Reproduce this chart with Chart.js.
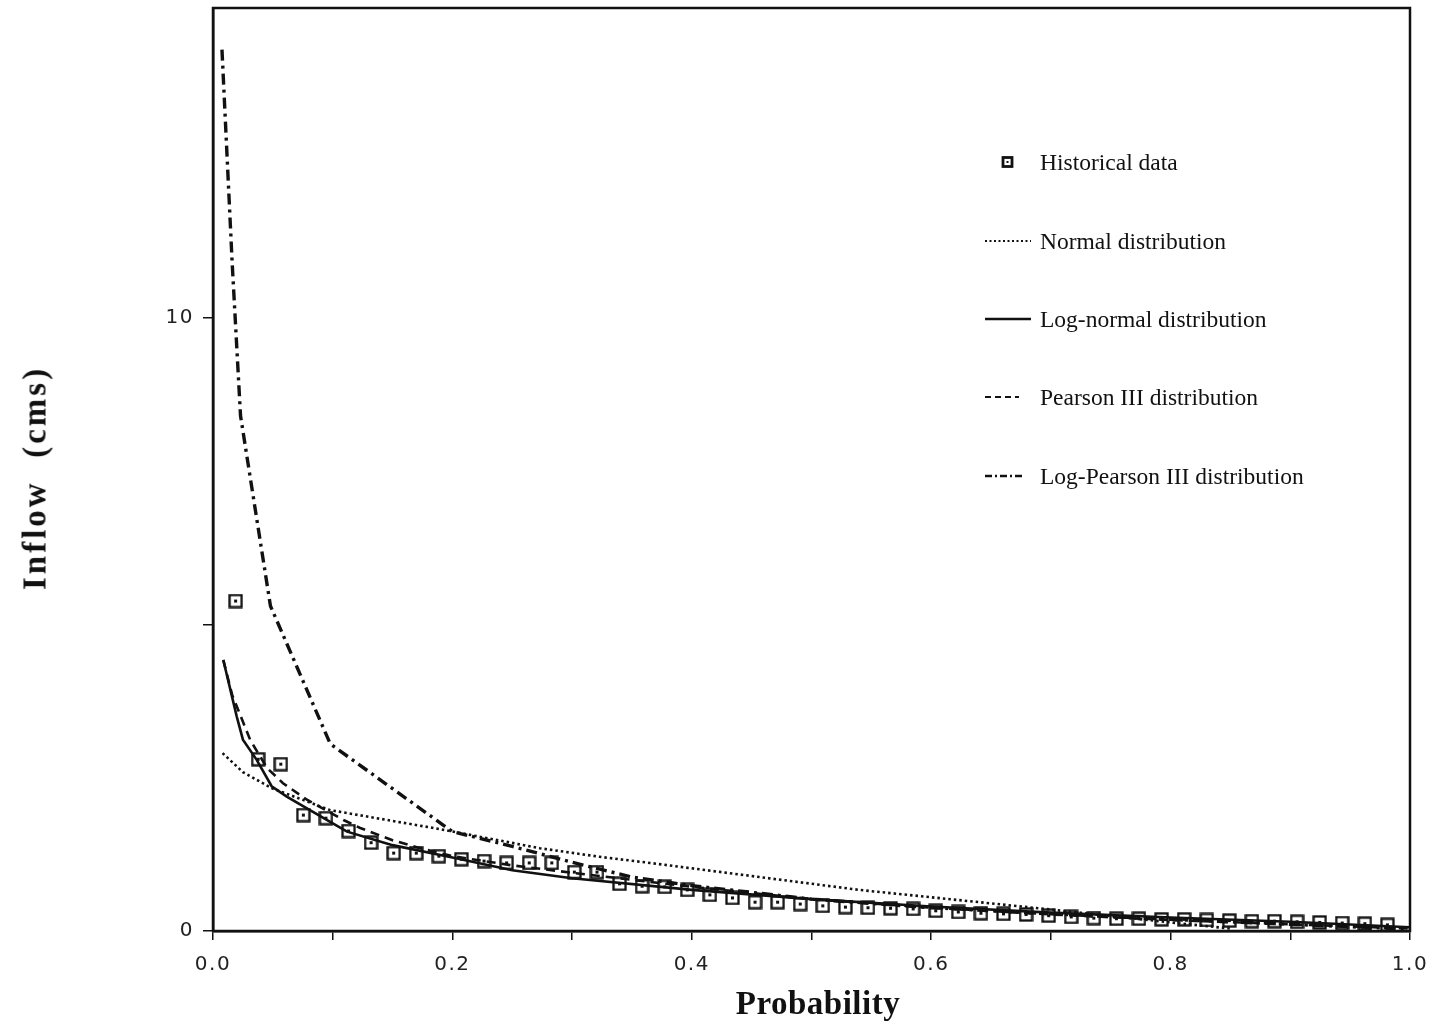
<!DOCTYPE html>
<html lang="en">
<head>
    <meta charset="UTF-8">
    <title>Inflow Frequency Curves</title>
    <script src="https://cdn.jsdelivr.net/npm/chart.js"></script>
    <style>
        body {
            margin: 0;
            background: #fff;
        }
        .wrap {
            position: relative;
            width: 1435px;
            height: 1027px;
        }
        .axis-title {
            position: absolute;
            font-family: "Liberation Serif", "Times New Roman", serif;
            font-weight: bold;
            font-size: 33px;
            color: #111;
            white-space: nowrap;
        }
        #xTitle {
            left: 818px;
            top: 1003px;
            transform: translate(-50%, -50%);
            letter-spacing: 0.5px;
        }
        #yTitle {
            left: 35px;
            top: 478px;
            transform: translate(-50%, -50%) rotate(-90deg);
            letter-spacing: 3px;
        }
        .legend-item {
            position: absolute;
            left: 983px;
            height: 30px;
            display: flex;
            align-items: center;
            transform: translateY(-50%);
            font-family: "Liberation Serif", "Times New Roman", serif;
            font-size: 23.5px;
            color: #111;
            white-space: nowrap;
        }
        .legend-item svg {
            width: 50px;
            height: 12px;
            margin-right: 7px;
        }
    </style>
</head>
<body>
<div class="wrap">
    <canvas id="plot" width="1435" height="1027"></canvas>
    <div class="axis-title" id="xTitle">Probability</div>
    <div class="axis-title" id="yTitle">Inflow&nbsp;&nbsp;(cms)</div>

    <div class="legend-item" style="top:162px">
        <svg viewBox="0 0 50 12"><rect x="20" y="1.5" width="9" height="9" fill="#fff" stroke="#111" stroke-width="2.8"/><rect x="23.5" y="5" width="2" height="2" fill="#111"/></svg>
        Historical data
    </div>
    <div class="legend-item" style="top:241px">
        <svg viewBox="0 0 50 12"><line x1="2" y1="6" x2="48" y2="6" stroke="#111" stroke-width="2.2" stroke-dasharray="2 2.5"/></svg>
        Normal distribution
    </div>
    <div class="legend-item" style="top:319px">
        <svg viewBox="0 0 50 12"><line x1="2" y1="6" x2="48" y2="6" stroke="#111" stroke-width="2.4"/></svg>
        Log-normal distribution
    </div>
    <div class="legend-item" style="top:397px">
        <svg viewBox="0 0 50 12"><line x1="2" y1="6" x2="36" y2="6" stroke="#111" stroke-width="2.2" stroke-dasharray="6 4"/></svg>
        Pearson III distribution
    </div>
    <div class="legend-item" style="top:476px">
        <svg viewBox="0 0 50 12"><line x1="2" y1="6" x2="40" y2="6" stroke="#111" stroke-width="2.4" stroke-dasharray="7 3 2 3"/></svg>
        Log-Pearson III distribution
    </div>
</div>

<script>
    // Observed inflows, plotted at exceedance probability i/(n+1)
    const histProb = [0.0189, 0.0377, 0.0566, 0.0755, 0.0943, 0.1132, 0.1321, 0.1509, 0.1698, 0.1887,
        0.2075, 0.2264, 0.2453, 0.2642, 0.2830, 0.3019, 0.3208, 0.3396, 0.3585, 0.3774,
        0.3962, 0.4151, 0.4340, 0.4528, 0.4717, 0.4906, 0.5094, 0.5283, 0.5472, 0.5660,
        0.5849, 0.6038, 0.6226, 0.6415, 0.6604, 0.6792, 0.6981, 0.7170, 0.7358, 0.7547,
        0.7736, 0.7925, 0.8113, 0.8302, 0.8491, 0.8679, 0.8868, 0.9057, 0.9245, 0.9434,
        0.9623, 0.9811];
    const histFlow = [5.38, 2.80, 2.72, 1.89, 1.84, 1.63, 1.44, 1.27, 1.27, 1.22,
        1.17, 1.14, 1.11, 1.11, 1.11, 0.96, 0.96, 0.77, 0.73, 0.72,
        0.67, 0.59, 0.54, 0.47, 0.47, 0.44, 0.41, 0.39, 0.38, 0.37,
        0.36, 0.33, 0.31, 0.29, 0.28, 0.27, 0.25, 0.23, 0.21, 0.20,
        0.20, 0.19, 0.19, 0.18, 0.17, 0.16, 0.16, 0.15, 0.14, 0.13,
        0.12, 0.10];

    // Fitted distributions
    const normalProb = [0.008, 0.025, 0.049, 0.098, 0.19, 0.273, 0.323, 0.365, 0.54, 0.69, 0.8, 0.85];
    const normalFlow = [2.90, 2.59, 2.33, 1.97, 1.66, 1.35, 1.21, 1.11, 0.67, 0.37, 0.14, 0.04];

    const logNormalProb = [0.0086, 0.0198, 0.025, 0.0365, 0.049, 0.0616, 0.081, 0.095, 0.112, 0.15,
        0.2, 0.25, 0.3, 0.4, 0.5, 0.6, 0.7, 0.8, 0.9, 1.0];
    const logNormalFlow = [4.42, 3.50, 3.12, 2.79, 2.36, 2.19, 1.97, 1.81, 1.62, 1.40,
        1.20, 0.99, 0.86, 0.67, 0.52, 0.40, 0.30, 0.22, 0.15, 0.06];

    const pearsonProb = [0.0086, 0.016, 0.031, 0.045, 0.0585, 0.0785, 0.109, 0.123, 0.15, 0.173,
        0.2, 0.25, 0.3, 0.4, 0.5, 0.6, 0.7, 0.8, 0.9, 1.0];
    const pearsonFlow = [4.42, 3.85, 3.12, 2.66, 2.41, 2.14, 1.81, 1.68, 1.48, 1.35,
        1.22, 1.07, 0.95, 0.72, 0.52, 0.38, 0.27, 0.18, 0.11, 0.04];

    const logPearsonProb = [0.0075, 0.016, 0.023, 0.048, 0.098, 0.2, 0.25, 0.3, 0.35, 0.4,
        0.5, 0.6, 0.7, 0.8, 0.9, 1.0];
    const logPearsonFlow = [14.37, 10.9, 8.4, 5.3, 3.05, 1.62, 1.38, 1.12, 0.88, 0.74,
        0.52, 0.38, 0.28, 0.19, 0.11, 0.03];

    const xTicks = [0, 0.1, 0.2, 0.3, 0.4, 0.5, 0.6, 0.7, 0.8, 0.9, 1.0];
    const yTicks = [0, 5, 10];

    const toPoints = (xs, ys) => xs.map((x, i) => ({ x: x, y: ys[i] }));

    // hollow square with a dot in the middle
    function squareMarker() {
        const c = document.createElement("canvas");
        c.width = 15;
        c.height = 15;
        const g = c.getContext("2d");
        g.fillStyle = "#fff";
        g.fillRect(1.5, 1.5, 12, 12);
        g.strokeStyle = "#111";
        g.lineWidth = 2.3;
        g.strokeRect(1.5, 1.5, 12, 12);
        g.fillStyle = "#111";
        g.fillRect(6, 6, 3, 3);
        return c;
    }

    // box around the plotting area
    const frame = {
        id: "frame",
        afterDraw(chart) {
            const a = chart.chartArea;
            const ctx = chart.ctx;
            ctx.save();
            ctx.strokeStyle = "#111";
            ctx.lineWidth = 2.5;
            ctx.strokeRect(a.left, a.top, a.right - a.left, a.bottom - a.top);
            ctx.restore();
        }
    };

    // wider spacing for the tick numbers only
    const tickSpacing = {
        id: "tickSpacing",
        beforeDraw(chart) { chart.ctx.letterSpacing = "1.5px"; },
        beforeDatasetsDraw(chart) { chart.ctx.letterSpacing = "0px"; }
    };

    const lineStyle = (dash, width) => ({
        type: "line",
        borderColor: "#111",
        borderWidth: width,
        borderDash: dash,
        pointRadius: 0,
        fill: false,
        tension: 0
    });

    new Chart(document.getElementById("plot").getContext("2d"), {
        type: "scatter",
        data: {
            datasets: [
                Object.assign({ label: "Normal distribution", data: toPoints(normalProb, normalFlow) }, lineStyle([2.5, 3], 2.6)),
                Object.assign({ label: "Log-normal distribution", data: toPoints(logNormalProb, logNormalFlow) }, lineStyle([], 2.6)),
                Object.assign({ label: "Pearson III distribution", data: toPoints(pearsonProb, pearsonFlow) }, lineStyle([9, 6], 2.6)),
                Object.assign({ label: "Log-Pearson III distribution", data: toPoints(logPearsonProb, logPearsonFlow) }, lineStyle([11, 5, 3, 5], 3.4)),
                {
                    label: "Historical data",
                    data: toPoints(histProb, histFlow),
                    pointStyle: squareMarker(),
                    pointRadius: 7,
                    showLine: false
                }
            ]
        },
        options: {
            responsive: false,
            devicePixelRatio: 1,
            animation: false,
            layout: { padding: { top: 8, right: 25, left: 0, bottom: 0 } },
            plugins: {
                legend: { display: false },
                tooltip: { enabled: false }
            },
            scales: {
                x: {
                    type: "linear",
                    min: 0,
                    max: 1,
                    afterBuildTicks: (scale) => { scale.ticks = xTicks.map(v => ({ value: v })); },
                    afterFit: (scale) => {
                        scale.height = 96;
                        scale.paddingLeft = 0;
                        scale.paddingRight = 0;
                    },
                    ticks: {
                        autoSkip: false,
                        maxRotation: 0,
                        padding: 13,
                        color: "#222",
                        font: { family: "DejaVu Sans", size: 20 },
                        callback: (v) => (Math.round(v * 10) % 2 === 0 ? v.toFixed(1) : "")
                    },
                    grid: {
                        drawOnChartArea: false,
                        drawTicks: true,
                        tickLength: 9,
                        color: "#111",
                        lineWidth: 1.5
                    },
                    border: { color: "#111", width: 2.5 }
                },
                y: {
                    min: 0,
                    max: 15.05,
                    afterBuildTicks: (scale) => { scale.ticks = yTicks.map(v => ({ value: v })); },
                    afterFit: (scale) => {
                        scale.width = 213;
                        scale.paddingTop = 0;
                        scale.paddingBottom = 0;
                    },
                    ticks: {
                        padding: 9,
                        color: "#222",
                        font: { family: "DejaVu Sans", size: 20 },
                        callback: (v) => (v === 5 ? "" : String(v))
                    },
                    grid: {
                        drawOnChartArea: false,
                        drawTicks: true,
                        tickLength: 10,
                        color: "#111",
                        lineWidth: 1.5
                    },
                    border: { color: "#111", width: 2.5 }
                }
            }
        },
        plugins: [frame, tickSpacing]
    });
</script>
</body>
</html>
